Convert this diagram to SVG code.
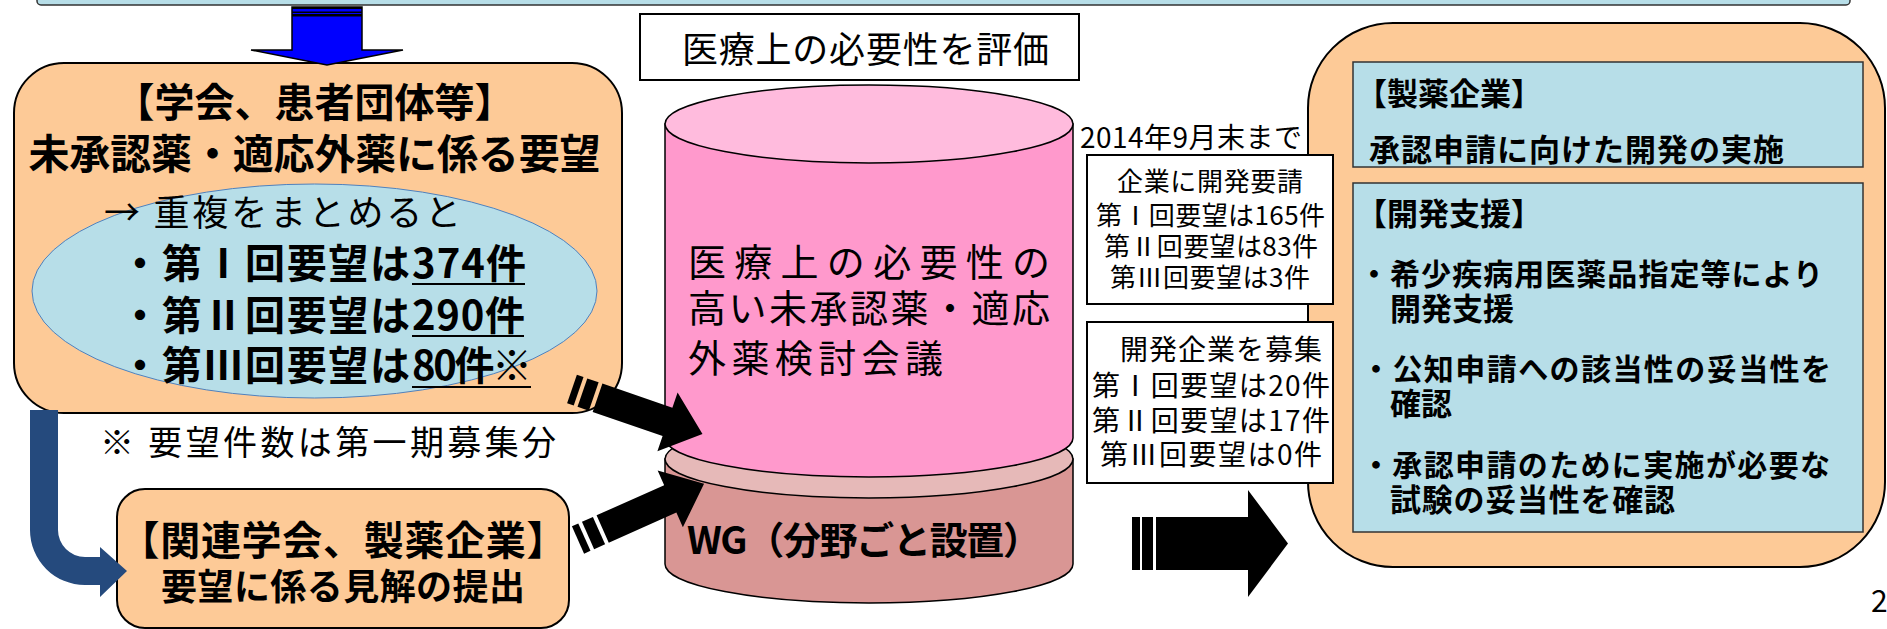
<svg xmlns="http://www.w3.org/2000/svg" width="1887" height="629" viewBox="0 0 1887 629">
<style>
text{font-family:"Noto Sans CJK JP","Noto Sans CJK SC",sans-serif;fill:#000}
.b{font-weight:bold}
.org{fill:#fdca97;stroke:#000;stroke-width:2}
.lb{fill:#b7dee8;stroke:#333;stroke-width:1.5}
.wb{fill:#fff;stroke:#000;stroke-width:2}
.ul{stroke:#000;stroke-width:2}
.cyl{stroke:#000;stroke-width:1.5}
</style>
<defs>
<g id="sarrow">
<rect x="0" y="-15" width="7" height="30"/>
<rect x="11" y="-15" width="12" height="30"/>
<path d="M27,-15 H101 V-31 L138,0 L101,31 V15 H27 Z"/>
</g>
</defs>
<rect x="0" y="0" width="1887" height="629" fill="#fff"/>

<g id="top-box">
<rect x="37" y="-20" width="1813" height="25" rx="4" class="lb"/>
</g>

<g id="n-gakkai">
<rect x="14" y="63" width="608" height="350" rx="50" class="org"/>
<ellipse cx="314.5" cy="291" rx="282.5" ry="107" fill="#b7dee8" stroke="#4f81bd" stroke-width="1"/>
<text x="314.5" y="117" class="b" font-size="40" text-anchor="middle">【学会、患者団体等】</text>
<text x="314.5" y="169" class="b" font-size="41" text-anchor="middle" textLength="572">未承認薬・適応外薬に係る要望</text>
<text x="104" y="226" font-size="36" textLength="357">→ 重複をまとめると</text>
<text x="120" y="278" class="b" font-size="40" textLength="290">・第Ⅰ回要望は</text>
<text x="412" y="278" class="b" font-size="40" textLength="114">374件</text>
<line x1="412" y1="284" x2="525" y2="284" class="ul"/>
<text x="120" y="330" class="b" font-size="40" textLength="290">・第Ⅱ回要望は</text>
<text x="412" y="330" class="b" font-size="40" textLength="113">290件</text>
<line x1="412" y1="336" x2="524" y2="336" class="ul"/>
<text x="120" y="380" class="b" font-size="40" textLength="290">・第Ⅲ回要望は</text>
<text x="412" y="380" class="b" font-size="40" textLength="120">80件※</text>
<line x1="412" y1="387" x2="531" y2="387" class="ul"/>
</g>

<g id="note">
<text x="100" y="455" font-size="34" textLength="456">※ 要望件数は第一期募集分</text>
</g>

<g id="n-kanren">
<rect x="117" y="489" width="452" height="139" rx="28" class="org"/>
<text x="343" y="555" class="b" font-size="40" text-anchor="middle" textLength="447">【関連学会、製薬企業】</text>
<text x="343" y="600" class="b" font-size="36" text-anchor="middle" textLength="364">要望に係る見解の提出</text>
</g>

<g id="n-hyoka">
<rect x="640" y="14" width="439" height="66" class="wb"/>
<text x="865.5" y="63" font-size="36" text-anchor="middle" textLength="367">医療上の必要性を評価</text>
</g>

<g id="n-kaigi">
<path d="M665,459 L665,564 A204,39 0 0 0 1073,564 L1073,459 Z" fill="#d99694" class="cyl"/>
<ellipse cx="869" cy="459" rx="204" ry="39" fill="#e6b9b8" class="cyl"/>
<path d="M665,124 L665,438 A204,39 0 0 0 1073,438 L1073,124 Z" fill="#ff99cc" class="cyl"/>
<ellipse cx="869" cy="124" rx="204" ry="39" fill="#ffbbdd" class="cyl"/>
<text x="688" y="276" font-size="38" textLength="362">医療上の必要性の</text>
<text x="688" y="322" font-size="38" textLength="362">高い未承認薬・適応</text>
<text x="688" y="372" font-size="38" textLength="255">外薬検討会議</text>
<text x="687" y="554" class="b" font-size="38" textLength="354">WG（分野ごと設置）</text>
</g>

<g id="n-kigyo">
<rect x="1308" y="23" width="577" height="544" rx="85" class="org"/>
<rect x="1353" y="62" width="510" height="105" class="lb"/>
<rect x="1353" y="183" width="510" height="349" class="lb"/>
<text x="1356" y="105" class="b" font-size="31">【製薬企業】</text>
<text x="1369" y="161" class="b" font-size="31" textLength="415">承認申請に向けた開発の実施</text>
<text x="1356" y="225" class="b" font-size="31">【開発支援】</text>
<text x="1359" y="285" class="b" font-size="30" textLength="464">・希少疾病用医薬品指定等により</text>
<text x="1390" y="320" class="b" font-size="31">開発支援</text>
<text x="1361" y="380" class="b" font-size="30" textLength="470">・公知申請への該当性の妥当性を</text>
<text x="1390" y="415" class="b" font-size="31">確認</text>
<text x="1361" y="476" class="b" font-size="30" textLength="469">・承認申請のために実施が必要な</text>
<text x="1390" y="511" class="b" font-size="31" textLength="285">試験の妥当性を確認</text>
</g>

<g id="n-date">
<text x="1080" y="148" font-size="28" textLength="222">2014年9月末まで</text>
</g>

<g id="n-yosei">
<rect x="1087" y="155" width="246" height="149" class="wb"/>
<text x="1210" y="191" font-size="26" text-anchor="middle" textLength="186">企業に開発要請</text>
<text x="1210.5" y="225" font-size="26" text-anchor="middle" textLength="229">第Ⅰ回要望は165件</text>
<text x="1211" y="256" font-size="26" text-anchor="middle" textLength="214">第Ⅱ回要望は83件</text>
<text x="1210" y="287" font-size="26" text-anchor="middle" textLength="200">第Ⅲ回要望は3件</text>
</g>

<g id="n-boshu">
<rect x="1087" y="322" width="246" height="161" class="wb"/>
<text x="1221" y="360" font-size="28" text-anchor="middle" textLength="202">開発企業を募集</text>
<text x="1211" y="396" font-size="28" text-anchor="middle" textLength="238">第Ⅰ回要望は20件</text>
<text x="1211" y="431" font-size="28" text-anchor="middle" textLength="238">第Ⅱ回要望は17件</text>
<text x="1211" y="465" font-size="28" text-anchor="middle" textLength="222">第Ⅲ回要望は0件</text>
</g>

<g id="connectors">
<g id="blue-arrow">
<path d="M292,7 H362 V50 H403 L327,65 L251,50 H292 Z" fill="#0000ff" stroke="#000" stroke-width="1.5"/>
<rect x="292" y="7" width="70" height="2" fill="#000"/>
<rect x="292" y="11.5" width="70" height="1.5" fill="#000"/>
<rect x="292" y="14" width="70" height="2.5" fill="#000"/>
</g>
<path id="bent-arrow" d="M30,410 H58 V530 A27,27 0 0 0 85,557 H100 V547 L127,571 L100,597 V585 H85 A55,55 0 0 1 30,530 Z" fill="#254a7d"/>
<use href="#sarrow" transform="translate(572,389) rotate(19)"/>
<use href="#sarrow" transform="translate(578,540) rotate(-24)"/>
<g id="big-arrow">
<rect x="1132" y="517" width="8" height="53"/>
<rect x="1142" y="517" width="11" height="53"/>
<path d="M1156,517 H1248 V490 L1288,543.5 L1248,597 V570 H1156 Z"/>
</g>
</g>

<text x="1871" y="612" font-family="Liberation Sans" font-size="30">2</text>
</svg>
